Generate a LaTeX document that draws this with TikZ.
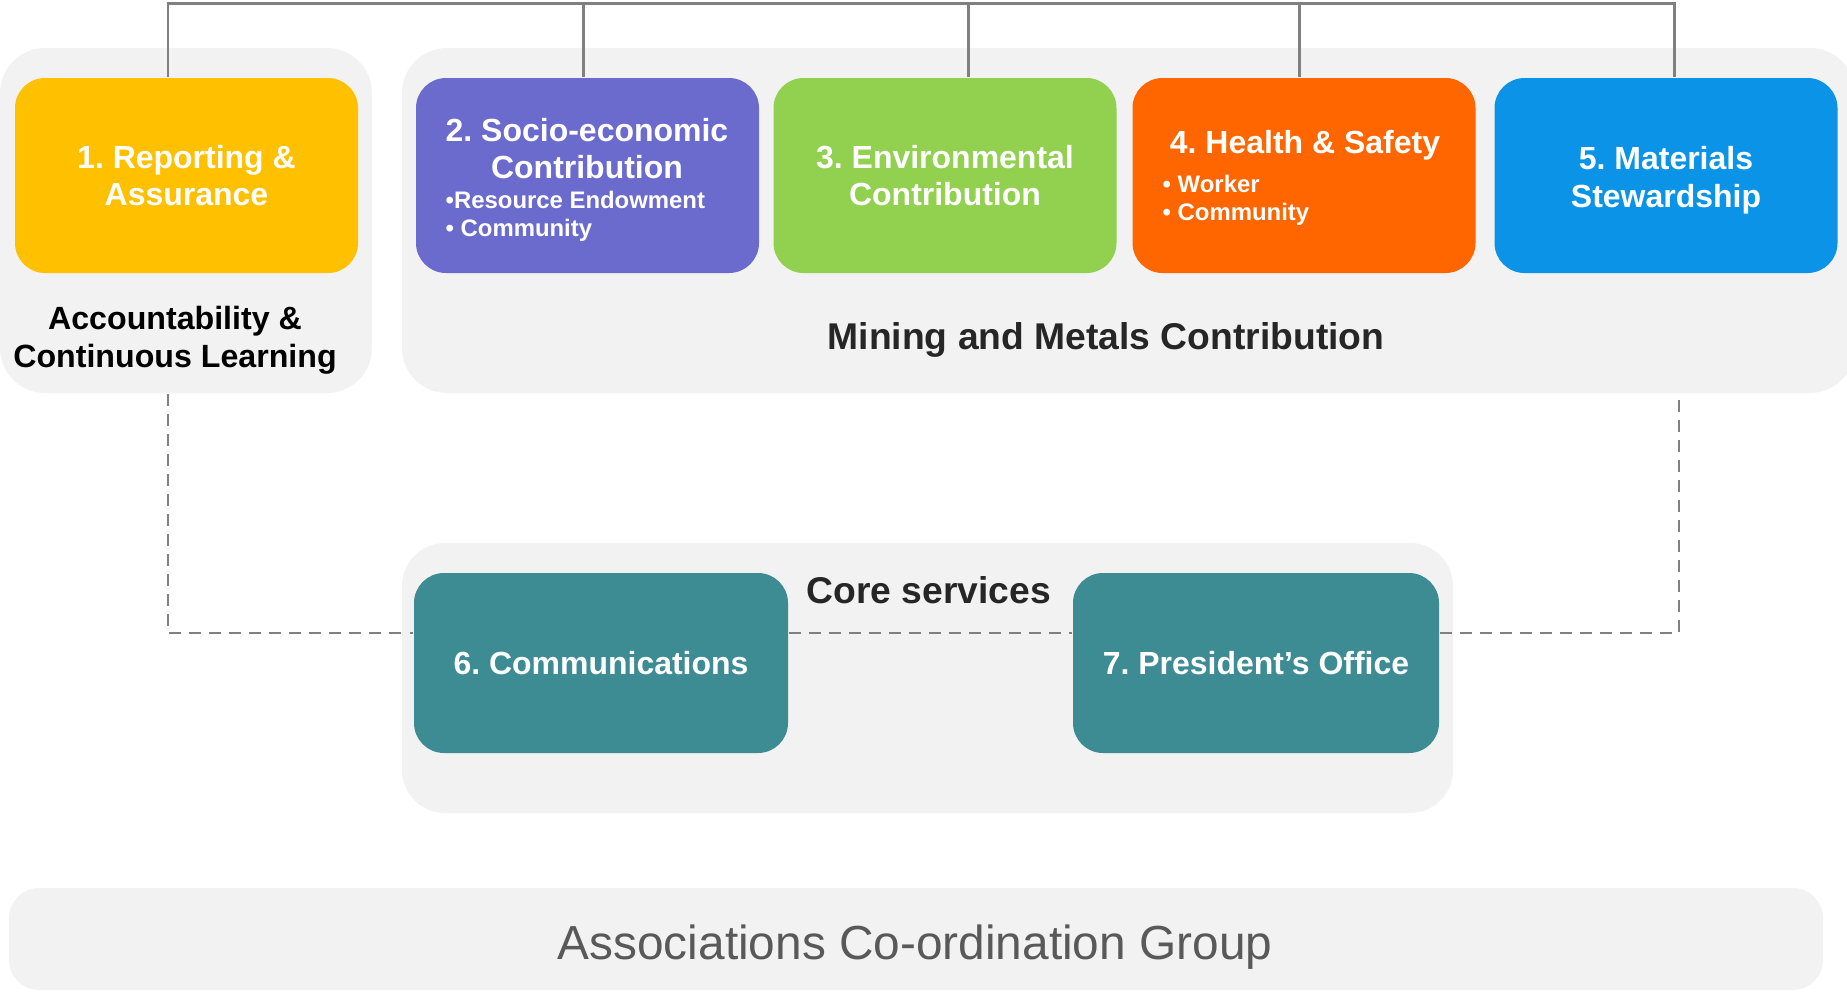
\documentclass[tikz,border=0pt]{standalone}
\usepackage{fontspec}
\setmainfont{Liberation Sans}
\frenchspacing
\usetikzlibrary{positioning}
\definecolor{panelgray}{HTML}{F2F2F2}
\definecolor{repyellow}{HTML}{FFC000}
\definecolor{socpurple}{HTML}{6B6BCE}
\definecolor{envgreen}{HTML}{92D050}
\definecolor{hsorange}{HTML}{FF6600}
\definecolor{matblue}{HTML}{0B93E8}
\definecolor{coreteal}{HTML}{3D8C93}
\definecolor{linegray}{HTML}{808080}
\definecolor{titlegray}{HTML}{262626}
\definecolor{assocgray}{HTML}{595959}

\begin{document}
\begin{tikzpicture}[
  panel/.style={fill=panelgray, rounded corners=0.45cm, inner sep=0pt},
  unit/.style={minimum width=3.43cm, minimum height=1.95cm, rounded corners=0.3cm, text=white, align=center, inner sep=0pt, font=\fontsize{9.1}{10.7}\selectfont\bfseries},
  unittitle/.style={text=white, align=center, inner sep=0pt, font=\fontsize{9.1}{10.7}\selectfont\bfseries},
  bullets/.style={text=white, align=left, anchor=west, inner sep=0pt, font=\fontsize{6.8}{8}\selectfont\bfseries},
  heading/.style={text=titlegray, align=center, inner sep=0pt, font=\fontsize{10.6}{12}\selectfont\bfseries},
  bus/.style={draw=linegray, line width=0.85pt},
  link/.style={draw=linegray, line width=0.6pt, dash pattern=on 3.4pt off 2.3pt},
]
  \useasboundingbox (0,0) rectangle (18.47,-9.92);

  % Panels
  \node (acc) at (1.86,-2.205) [panel, minimum width=3.72cm, minimum height=3.45cm] {};
  \node (mining) at (11.285,-2.205) [panel, minimum width=14.53cm, minimum height=3.45cm] {};
  \node (core) at (9.275,-6.78) [panel, minimum width=10.51cm, minimum height=2.70cm, rounded corners=0.43cm] {};
  \node (assoc) at (9.16,-9.39) [panel, minimum width=18.14cm, minimum height=1.02cm, rounded corners=0.3cm] {};
  \node (assoclabel) at (9.15,-9.59) [anchor=base, inner sep=0pt, text=assocgray, font=\fontsize{13.6}{16}\selectfont] {Associations Co-ordination Group};

  % Reporting
  \node (b1) at (1.865,-1.755) [unit, fill=repyellow] {1. Reporting \&\\Assurance};
  \node (acclabel) at (1.75,-3.405) [heading, text=black, font=\fontsize{9.15}{10.7}\selectfont\bfseries] {Accountability \&\\Continuous Learning};

  % Socio-economic
  \node (b2) at (5.875,-1.755) [unit, fill=socpurple] {};
  \node (b2title) at (5.87,-1.485) [unittitle] {2. Socio-economic\\Contribution};
  \node (b2list) at (4.45,-2.16) [bullets] {•Resource Endowment\\• Community};

  % Environmental
  \node (b3) at (9.45,-1.755) [unit, fill=envgreen] {3. Environmental\\Contribution};

  % Health and safety
  \node (b4) at (13.04,-1.755) [unit, fill=hsorange] {};
  \node (b4title) at (13.05,-1.45) [unittitle] {4. Health \& Safety};
  \node (b4list) at (11.62,-2.005) [bullets] {• Worker\\• Community};

  % Materials
  \node (b5) at (16.66,-1.755) [unit, fill=matblue] {};
  \node (b5title) at (16.66,-1.80) [unittitle] {5. Materials\\Stewardship};

  \node (mininglabel) at (11.06,-3.40) [heading] {Mining and Metals Contribution};

  % Core services
  \node (corelabel) at (9.29,-5.90) [heading] {Core services};
  \node (b6) at (6.01,-6.63) [unit, fill=coreteal, minimum width=3.74cm, minimum height=1.80cm] {6. Communications};
  \node (b7) at (12.56,-6.63) [unit, fill=coreteal, minimum width=3.66cm, minimum height=1.80cm] {7. President’s Office};

  % Top bus
  \coordinate (t1) at (1.68,-0.035);
  \coordinate (t2) at (5.83,-0.035);
  \coordinate (t3) at (9.68,-0.035);
  \coordinate (t4) at (12.99,-0.035);
  \coordinate (t5) at (16.74,-0.035);
  \draw[bus] (t1 |- b1.north) -- (t1) -- (t5) -- (t5 |- b5.north);
  \foreach \i in {2,3,4}
    \draw[bus] (t\i) -- (t\i |- b\i.north);

  % Dashed links
  \coordinate (d1) at (1.68,-6.33);
  \coordinate (d2) at (16.79,-6.33);
  \draw[link] (d1 |- acc.south) -- (d1) -- (d1 -| b6.west);
  \draw[link] (d1 -| b6.east) -- (d1 -| b7.west);
  \draw[link] (d1 -| b7.east) -- (d2) -- (d2 |- mining.south);
\end{tikzpicture}
\end{document}
